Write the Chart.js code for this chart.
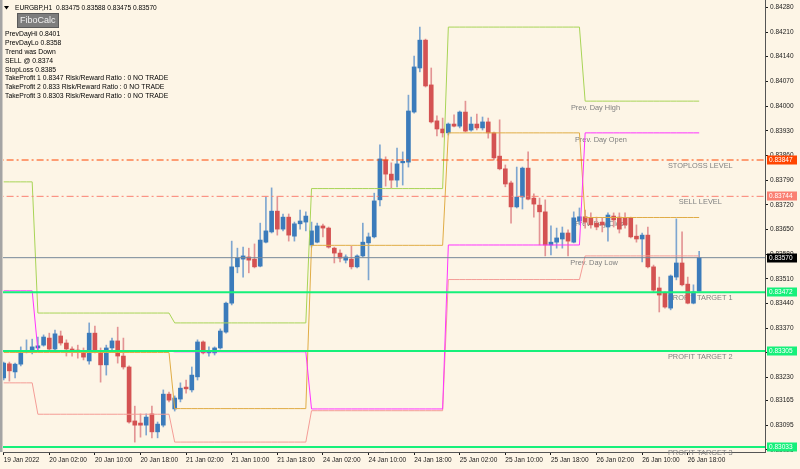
<!DOCTYPE html>
<html>
<head>
<meta charset="utf-8">
<script src="https://cdn.jsdelivr.net/npm/chart.js@4.4.1/dist/chart.umd.min.js"></script>
<style>
  html, body { margin: 0; padding: 0; background: #fdf5e6; overflow: hidden; }
  #wrap { width: 800px; height: 469px; }
</style>
</head>
<body>
<div id="wrap"><canvas id="chart" width="800" height="469"></canvas></div>
<script>
// EURGBP H1, one candle per hour from 19 Jan 18:00 to 26 Jan 20:00
const opens = [
    0.83229, 0.83269, 0.83246, 0.83268, 0.83302, 0.83305, 0.83314, 0.83322, 0.83342, 0.83311,
    0.83348, 0.83328, 0.83311, 0.83308, 0.83305, 0.83277, 0.83356, 0.83302, 0.83266, 0.83314,
    0.83334, 0.83291, 0.83260, 0.83107, 0.83101, 0.83095, 0.83127, 0.83076, 0.83095, 0.83183,
    0.83141, 0.83169, 0.83203, 0.83195, 0.83232, 0.83331, 0.83300, 0.83300, 0.83314, 0.83359,
    0.83441, 0.83544, 0.83566, 0.83572, 0.83566, 0.83546, 0.83614, 0.83643, 0.83702, 0.83651,
    0.83685, 0.83631, 0.83666, 0.83671, 0.83606, 0.83614, 0.83660, 0.83654, 0.83597, 0.83583,
    0.83563, 0.83566, 0.83544, 0.83575, 0.83612, 0.83629, 0.83734, 0.83847, 0.83807, 0.83790,
    0.83839, 0.83841, 0.83983, 0.84108, 0.84187, 0.84060, 0.83958, 0.83935, 0.83924, 0.83949,
    0.83943, 0.83983, 0.83932, 0.83949, 0.83938, 0.83955, 0.83924, 0.83858, 0.83822, 0.83782,
    0.83714, 0.83742, 0.83824, 0.83739, 0.83719, 0.83700, 0.83606, 0.83614, 0.83623, 0.83640,
    0.83614, 0.83674, 0.83686, 0.83683, 0.83668, 0.83671, 0.83657, 0.83688, 0.83685, 0.83683,
    0.83683, 0.83631, 0.83623, 0.83634, 0.83544, 0.83484, 0.83470, 0.83427, 0.83515, 0.83555,
    0.83495, 0.83441, 0.83475
];
const highs = [
    0.83274, 0.83274, 0.83271, 0.83317, 0.83337, 0.83339, 0.83345, 0.83351, 0.83356, 0.83365,
    0.83362, 0.83337, 0.83317, 0.83322, 0.83314, 0.83385, 0.83376, 0.83314, 0.83322, 0.83342,
    0.83373, 0.83342, 0.83263, 0.83149, 0.83127, 0.83127, 0.83149, 0.83104, 0.83195, 0.83189,
    0.83178, 0.83215, 0.83223, 0.83260, 0.83337, 0.83334, 0.83317, 0.83317, 0.83368, 0.83444,
    0.83617, 0.83597, 0.83600, 0.83597, 0.83609, 0.83668, 0.83742, 0.83768, 0.83742, 0.83694,
    0.83694, 0.83671, 0.83705, 0.83700, 0.83671, 0.83668, 0.83665, 0.83657, 0.83600, 0.83592,
    0.83578, 0.83603, 0.83578, 0.83668, 0.83640, 0.83753, 0.83890, 0.83856, 0.83839, 0.83881,
    0.83870, 0.84031, 0.84142, 0.84224, 0.84190, 0.84108, 0.83972, 0.83966, 0.83952, 0.83975,
    0.83986, 0.84014, 0.83969, 0.83977, 0.83969, 0.83966, 0.83926, 0.83961, 0.83833, 0.83787,
    0.83827, 0.83827, 0.83870, 0.83751, 0.83739, 0.83734, 0.83660, 0.83654, 0.83657, 0.83649,
    0.83700, 0.83711, 0.83705, 0.83697, 0.83685, 0.83683, 0.83697, 0.83697, 0.83697, 0.83697,
    0.83685, 0.83663, 0.83640, 0.83657, 0.83549, 0.83515, 0.83473, 0.83521, 0.83680, 0.83643,
    0.83515, 0.83493, 0.83588
];
const lows = [
    0.83223, 0.83220, 0.83229, 0.83263, 0.83300, 0.83297, 0.83308, 0.83319, 0.83308, 0.83302,
    0.83322, 0.83291, 0.83291, 0.83285, 0.83280, 0.83268, 0.83300, 0.83217, 0.83237, 0.83308,
    0.83271, 0.83254, 0.83101, 0.83047, 0.83061, 0.83067, 0.83059, 0.83059, 0.83090, 0.83161,
    0.83135, 0.83161, 0.83186, 0.83189, 0.83223, 0.83297, 0.83291, 0.83294, 0.83311, 0.83356,
    0.83436, 0.83527, 0.83515, 0.83527, 0.83541, 0.83544, 0.83612, 0.83640, 0.83634, 0.83646,
    0.83617, 0.83617, 0.83651, 0.83646, 0.83600, 0.83612, 0.83629, 0.83597, 0.83555, 0.83558,
    0.83555, 0.83538, 0.83541, 0.83572, 0.83507, 0.83626, 0.83717, 0.83773, 0.83768, 0.83771,
    0.83776, 0.83827, 0.83980, 0.84097, 0.84054, 0.83952, 0.83915, 0.83912, 0.83918, 0.83941,
    0.83938, 0.83926, 0.83929, 0.83932, 0.83932, 0.83909, 0.83847, 0.83819, 0.83771, 0.83668,
    0.83711, 0.83708, 0.83734, 0.83685, 0.83606, 0.83575, 0.83578, 0.83597, 0.83597, 0.83575,
    0.83612, 0.83663, 0.83654, 0.83654, 0.83649, 0.83643, 0.83617, 0.83657, 0.83640, 0.83654,
    0.83626, 0.83614, 0.83558, 0.83541, 0.83473, 0.83416, 0.83427, 0.83422, 0.83507, 0.83490,
    0.83439, 0.83439, 0.83475
];
const closes = [
    0.83271, 0.83249, 0.83268, 0.83302, 0.83305, 0.83317, 0.83320, 0.83345, 0.83311, 0.83354,
    0.83328, 0.83311, 0.83305, 0.83302, 0.83288, 0.83356, 0.83302, 0.83266, 0.83314, 0.83334,
    0.83291, 0.83260, 0.83104, 0.83095, 0.83095, 0.83118, 0.83076, 0.83098, 0.83183, 0.83166,
    0.83172, 0.83200, 0.83198, 0.83237, 0.83331, 0.83300, 0.83305, 0.83314, 0.83362, 0.83441,
    0.83544, 0.83569, 0.83575, 0.83563, 0.83544, 0.83620, 0.83646, 0.83702, 0.83651, 0.83685,
    0.83634, 0.83666, 0.83674, 0.83688, 0.83646, 0.83660, 0.83654, 0.83600, 0.83583, 0.83569,
    0.83572, 0.83544, 0.83575, 0.83614, 0.83629, 0.83731, 0.83850, 0.83807, 0.83790, 0.83836,
    0.83841, 0.83986, 0.84111, 0.84187, 0.84057, 0.83955, 0.83935, 0.83924, 0.83949, 0.83943,
    0.83983, 0.83929, 0.83949, 0.83938, 0.83955, 0.83924, 0.83853, 0.83822, 0.83779, 0.83714,
    0.83742, 0.83824, 0.83736, 0.83722, 0.83700, 0.83606, 0.83614, 0.83626, 0.83640, 0.83617,
    0.83683, 0.83686, 0.83671, 0.83663, 0.83657, 0.83663, 0.83691, 0.83677, 0.83651, 0.83663,
    0.83629, 0.83623, 0.83634, 0.83544, 0.83478, 0.83464, 0.83430, 0.83518, 0.83555, 0.83493,
    0.83441, 0.83473, 0.83570
];

// previous-day levels, one value per trading day (first bar index of each day)
const dayStart = [0, 6, 30, 54, 78, 102];
const prevDayHigh = [0.83785, 0.83413, 0.83385, 0.83766, 0.84224, 0.84014];
const prevDayOpen = [0.83476, 0.83306, 0.83303, 0.83141, 0.83606, 0.83924];
const prevDayClose = [0.83301, 0.83301, 0.83142, 0.83605, 0.83924, 0.83684];
const prevDayLow = [0.83215, 0.83126, 0.83047, 0.83136, 0.83508, 0.83575];

// FiboCalc levels
const stopLoss = 0.83847;
const sellLevel = 0.83744;
const bidPrice = 0.83570;
const targets = [0.83472, 0.83305, 0.83033];

const xTickIndex = [0, 8, 16, 24, 32, 40, 48, 56, 64, 72, 80, 88, 96, 104, 112, 120];
const xTickLabels = [
    '19 Jan 2022', '20 Jan 02:00', '20 Jan 10:00', '20 Jan 18:00', '21 Jan 02:00',
    '21 Jan 10:00', '21 Jan 18:00', '24 Jan 02:00', '24 Jan 10:00', '24 Jan 18:00',
    '25 Jan 02:00', '25 Jan 10:00', '25 Jan 18:00', '26 Jan 02:00', '26 Jan 10:00',
    '26 Jan 18:00'
];
const yTickValues = [
    0.84280, 0.84210, 0.84140, 0.84070, 0.84000, 0.83930, 0.83860, 0.83790, 0.83720, 0.83650,
    0.83580, 0.83510, 0.83440, 0.83370, 0.83300, 0.83230, 0.83165, 0.83095, 0.83025
];

const infoLines = [
    'PrevDayHi 0.8401',
    'PrevDayLo 0.8358',
    'Trend was Down',
    'SELL @ 0.8374',
    'StopLoss 0.8385',
    'TakeProfit 1 0.8347 Risk/Reward Ratio : 0 NO TRADE',
    'TakeProfit 2 0.833 Risk/Reward Ratio : 0 NO TRADE',
    'TakeProfit 3 0.8303 Risk/Reward Ratio : 0 NO TRADE'
];

const colors = {
    bg: '#fdf5e6',
    up: '#3b7bbb',
    down: '#d45252',
    upWick: '#7ea6d0',
    downWick: '#e39494',
    pdHigh: '#a8d456',
    pdOpen: '#ff33ff',
    pdClose: '#e0ac45',
    pdLow: '#f49c96',
    stop: '#ff4500',
    sell: '#fa8072',
    bid: '#778899',
    target: '#16f07a',
    text: '#808080',
    axis: '#1a1a1a'
};

const FONT = 'Liberation Sans';
const X_MIN = -0.12;
const X_MAX = 133.55;

const bars = opens.map((o, i) => i);
const isUp = i => closes[i] >= opens[i];

function daily(values) {
    return bars.map(i => {
        let d = 0;
        while (d + 1 < dayStart.length && i >= dayStart[d + 1]) d++;
        return { x: i, y: values[d] };
    });
}

function flat(v) {
    return [{ x: X_MIN - 2, y: v }, { x: X_MAX + 2, y: v }];
}

function levelLine(v, color, width, dash) {
    return {
        type: 'line',
        data: flat(v),
        borderColor: color,
        borderWidth: width,
        borderDash: dash || [],
        pointRadius: 0,
        order: 0
    };
}

function pivotLine(values, color) {
    return {
        type: 'line',
        data: daily(values),
        borderColor: color,
        borderWidth: 1,
        pointRadius: 0,
        tension: 0,
        order: 1
    };
}

const overlay = {
    id: 'overlay',
    beforeDatasetsDraw(chart) {
        const { ctx, scales: { x, y } } = chart;
        const last = dayStart.length - 1;
        ctx.save();
        ctx.fillStyle = colors.text;
        ctx.font = `7.4px "${FONT}"`;
        ctx.textBaseline = 'top';
        ctx.textAlign = 'left';
        [
            ['Prev. Day High', prevDayHigh[last], 99.5],
            ['Prev. Day Open', prevDayOpen[last], 100.2],
            ['Prev. Day Close', prevDayClose[last], 100.2],
            ['Prev. Day Low', prevDayLow[last], 99.4]
        ].forEach(([t, v, xi]) => {
            ctx.fillText(t, x.getPixelForValue(xi), y.getPixelForValue(v) + 3);
        });
        ctx.textAlign = 'center';
        [
            ['STOPLOSS LEVEL', stopLoss],
            ['SELL LEVEL', sellLevel],
            ['PROFIT TARGET 1', targets[0]],
            ['PROFIT TARGET 2', targets[1]],
            ['PROFIT TARGET 3', targets[2]]
        ].forEach(([t, v]) => {
            ctx.fillText(t, x.getPixelForValue(122.2), y.getPixelForValue(v) + 2);
        });
        ctx.restore();
    },
    afterDraw(chart) {
        const { ctx, chartArea, scales: { y } } = chart;
        ctx.save();

        // price tags on the right axis
        ctx.font = `6.5px "${FONT}"`;
        ctx.textBaseline = 'middle';
        ctx.textAlign = 'left';
        [
            [stopLoss, colors.stop],
            [sellLevel, colors.sell],
            [bidPrice, '#000000'],
            [targets[0], colors.target],
            [targets[1], colors.target],
            [targets[2], colors.target]
        ].forEach(([v, c]) => {
            const py = Math.round(y.getPixelForValue(v));
            ctx.fillStyle = c;
            ctx.fillRect(chartArea.right + 2, py - 4.5, 30, 9);
            ctx.fillStyle = '#ffffff';
            ctx.fillText(v.toFixed(5), chartArea.right + 4, py + 0.5);
        });

        // left window edge
        ctx.fillStyle = '#a4a4a4';
        ctx.fillRect(0, 0, 2.5, chartArea.bottom);

        // header
        ctx.fillStyle = '#000000';
        ctx.beginPath();
        ctx.moveTo(4, 6);
        ctx.lineTo(9, 6);
        ctx.lineTo(6.5, 9.5);
        ctx.closePath();
        ctx.fill();
        ctx.font = `6.6px "${FONT}"`;
        ctx.fillText('EURGBP,H1  0.83475 0.83588 0.83475 0.83570', 15, 8.5);

        // FiboCalc button
        ctx.fillStyle = '#7d7d7d';
        ctx.fillRect(17, 13, 42, 15);
        ctx.strokeStyle = '#5a5a5a';
        ctx.lineWidth = 1;
        ctx.strokeRect(17.5, 13.5, 41, 14);
        ctx.fillStyle = '#f2f2f2';
        ctx.font = `9px "${FONT}"`;
        ctx.fillText('FiboCalc', 20, 21);

        // info text
        ctx.fillStyle = '#000000';
        ctx.font = `6.8px "${FONT}"`;
        infoLines.forEach((t, i) => {
            ctx.fillText(t, 5, 34.5 + i * 8.8);
        });
        ctx.restore();
    }
};

new Chart(document.getElementById('chart'), {
    type: 'bar',
    data: {
        datasets: [
            levelLine(stopLoss, colors.stop, 1, [7, 3, 2, 3]),
            levelLine(sellLevel, colors.sell, 1, [7, 3, 2, 3]),
            levelLine(bidPrice, colors.bid, 1),
            levelLine(targets[0], colors.target, 2),
            levelLine(targets[1], colors.target, 2),
            levelLine(targets[2], colors.target, 2),
            pivotLine(prevDayHigh, colors.pdHigh),
            pivotLine(prevDayOpen, colors.pdOpen),
            pivotLine(prevDayClose, colors.pdClose),
            pivotLine(prevDayLow, colors.pdLow),
            {
                label: 'body',
                data: bars.map(i => ({ x: i, y: [opens[i], closes[i]] })),
                backgroundColor: bars.map(i => isUp(i) ? colors.up : colors.down),
                barThickness: 4,
                minBarLength: 1.5,
                grouped: false,
                order: 2
            },
            {
                label: 'wick',
                data: bars.map(i => ({ x: i, y: [lows[i], highs[i]] })),
                backgroundColor: bars.map(i => isUp(i) ? colors.upWick : colors.downWick),
                barThickness: 1,
                grouped: false,
                order: 3
            }
        ]
    },
    options: {
        responsive: false,
        animation: false,
        events: [],
        layout: { padding: { left: 3, top: 0, right: 0, bottom: 0 } },
        plugins: {
            legend: { display: false },
            tooltip: { enabled: false }
        },
        scales: {
            x: {
                type: 'linear',
                min: X_MIN,
                max: X_MAX,
                offset: false,
                bounds: 'data',
                grid: { offset: false, drawOnChartArea: false, drawTicks: true, tickLength: 3, color: colors.axis },
                border: { display: true, color: '#555555', width: 1 },
                afterBuildTicks: scale => { scale.ticks = xTickIndex.map(v => ({ value: v })); },
                afterFit: scale => {
                    scale.height = 17;
                    scale.paddingLeft = 0;
                    scale.paddingRight = 0;
                },
                ticks: {
                    autoSkip: false,
                    maxRotation: 0,
                    minRotation: 0,
                    align: 'start',
                    padding: 1,
                    color: colors.axis,
                    font: { family: FONT, size: 6.5 },
                    callback: (v, i) => xTickLabels[i]
                }
            },
            y: {
                type: 'linear',
                position: 'right',
                min: 0.830189,
                max: 0.843008,
                bounds: 'data',
                grid: { drawOnChartArea: false, drawTicks: true, tickLength: 3, color: colors.axis },
                border: { display: true, color: '#555555', width: 1 },
                afterBuildTicks: scale => { scale.ticks = yTickValues.map(v => ({ value: v })); },
                afterFit: scale => {
                    scale.width = 35;
                    scale.paddingTop = 0;
                    scale.paddingBottom = 0;
                },
                ticks: {
                    autoSkip: false,
                    padding: 2,
                    color: colors.axis,
                    font: { family: FONT, size: 6.5 },
                    callback: v => v.toFixed(5)
                }
            }
        }
    },
    plugins: [overlay]
});
</script>
</body>
</html>
